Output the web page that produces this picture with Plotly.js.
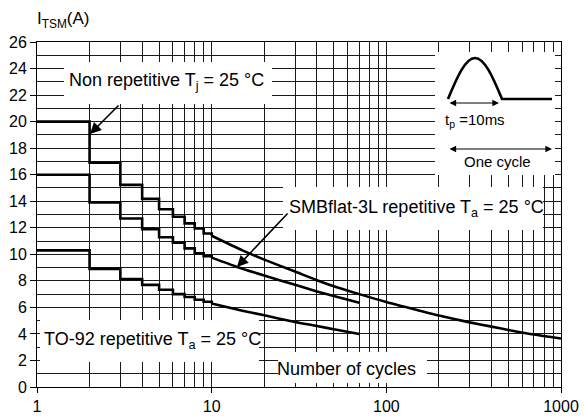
<!DOCTYPE html>
<html>
<head>
<meta charset="utf-8">
<script src="https://cdn.plot.ly/plotly-3.0.1.min.js"></script>
<style>html,body{margin:0;padding:0;background:#fff;}#chart{width:584px;height:420px;}</style>
</head>
<body>
<div id="chart"></div>
<script>
// ---- data ----
const stepCycles = [1, 2, 3, 4, 5, 6, 7, 8, 9, 10];
const nonRepStep = [20, 16.9, 15.23, 14.18, 13.4, 12.83, 12.33, 11.95, 11.57, 11.4];
const smbStep    = [16, 13.9, 12.7, 11.9, 11.28, 10.87, 10.45, 10.08, 9.86, 9.75];
const to92Step   = [10.3, 8.9, 8.13, 7.7, 7.33, 7.0, 6.78, 6.58, 6.42, 6.3];

const nonRepCycles = [10, 15, 20, 30, 40, 50, 70, 100, 150, 200, 300, 400, 500, 700, 1000];
const nonRepCurve  = [11.4, 10.3, 9.6, 8.7, 8.05, 7.6, 7.0, 6.4, 5.8, 5.38, 4.87, 4.55, 4.3, 3.95, 3.65];
const smbCycles = [10, 14, 20, 30, 40, 50, 70];
const smbCurve  = [9.75, 9.05, 8.4, 7.7, 7.2, 6.85, 6.35];
const to92Cycles = [10, 15, 20, 30, 40, 50, 70];
const to92Curve  = [6.3, 5.75, 5.4, 4.9, 4.6, 4.35, 4.0];

const xTickVals = [1, 10, 100, 1000];
const xTickText = ['1', '10', '100', '1000'];
const xGridVals = [2,3,4,5,6,7,8,9,20,30,40,50,60,70,80,90,200,300,400,500,600,700,800,900];
const yTickVals = [0,2,4,6,8,10,12,14,16,18,20,22,24,26];
const yGridVals = [1,3,5,7,9,11,13,15,17,19,21,23,25];

// ---- layout helpers (pixel -> paper) ----
const L = 37, T = 42, W = 524, H = 345;
const X = px => (px - L) / W;
const Y = py => (T + H - py) / H;

const FONT = 'Liberation Sans, Arial, sans-serif';
const lineStyle = {color: '#000', width: 2.6};

const traces = [
  {x: stepCycles, y: nonRepStep, mode: 'lines', line: Object.assign({shape: 'hv'}, lineStyle)},
  {x: nonRepCycles, y: nonRepCurve, mode: 'lines', line: Object.assign({shape: 'spline', smoothing: 0.6}, lineStyle)},
  {x: stepCycles, y: smbStep, mode: 'lines', line: Object.assign({shape: 'hv'}, lineStyle)},
  {x: smbCycles, y: smbCurve, mode: 'lines', line: Object.assign({shape: 'spline', smoothing: 0.6}, lineStyle)},
  {x: stepCycles, y: to92Step, mode: 'lines', line: Object.assign({shape: 'hv'}, lineStyle)},
  {x: to92Cycles, y: to92Curve, mode: 'lines', line: Object.assign({shape: 'spline', smoothing: 0.6}, lineStyle)}
];

const GRID = '#1a1a1a';
function box(x0, y0, x1, y1) {
  return {type: 'rect', xref: 'paper', yref: 'paper', x0: X(x0), x1: X(x1), y0: Y(y1), y1: Y(y0),
          fillcolor: '#fff', line: {width: 0}, layer: 'above'};
}
// half-sine pulse in the inset
const p = (px, py) => X(px).toFixed(5) + ',' + Y(py).toFixed(5);
const pulsePath = 'M' + p(448, 99) + ' C' + p(457, 77.5) + ' ' + p(465.3, 58) + ' ' + p(475, 58) +
                  ' C' + p(484.7, 58) + ' ' + p(493, 77.5) + ' ' + p(502, 99) + ' L' + p(552, 99);

const shapes = [
  box(64, 62, 272, 104),
  box(283, 187, 543, 230),
  box(40, 320, 259, 362),
  box(278, 352, 427, 383),
  box(435, 52, 555, 175),
  {type: 'path', xref: 'paper', yref: 'paper', path: pulsePath, line: {color: '#000', width: 2.6}, layer: 'above'}
];

function txt(text, px, py, size) {
  return {xref: 'paper', yref: 'paper', x: X(px), y: Y(py), xanchor: 'left', yanchor: 'middle',
          text: text, showarrow: false, font: {family: FONT, size: size || 18, color: '#000'}};
}
function arrow(tipx, tipy, tailx, taily, opts) {
  return Object.assign({xref: 'paper', yref: 'paper', x: X(tipx), y: Y(tipy), ax: tailx - tipx, ay: taily - tipy,
          text: '', showarrow: true, arrowhead: 2, arrowsize: 1.4, arrowwidth: 1.6, arrowcolor: '#000'}, opts || {});
}

const annotations = [
  txt('I<sub>TSM</sub>(A)', 35, 20, 17),
  txt('Non repetitive T<sub>j</sub> = 25 °C', 67, 82),
  txt('SMBflat-3L repetitive T<sub>a</sub> = 25 °C', 287, 208),
  txt('TO-92 repetitive T<sub>a</sub> = 25 °C', 42, 340),
  txt('Number of cycles', 275, 369),
  txt('t<sub>p</sub> =10ms', 443, 120, 15),
  txt('One cycle', 462, 161, 15),
  arrow(90, 134, 120, 104),
  arrow(237, 267, 289, 212),
  arrow(499, 103, 448, 103, {arrowside: 'end+start', startarrowhead: 2, arrowsize: 1.1, startarrowsize: 1.1, arrowwidth: 1.2}),
  arrow(552, 149, 448, 149, {arrowside: 'end+start', startarrowhead: 2, arrowsize: 1.1, startarrowsize: 1.1, arrowwidth: 1.2})
];

const layout = {
  width: 584, height: 420,
  margin: {l: L, r: 584 - L - W, t: T, b: 420 - T - H, pad: 0},
  paper_bgcolor: '#fff', plot_bgcolor: '#fff',
  showlegend: false, hovermode: false,
  font: {family: FONT, size: 16, color: '#000'},
  xaxis: {
    type: 'log', range: [0, 3],
    tickmode: 'array', tickvals: xTickVals, ticktext: xTickText,
    ticks: 'outside', ticklen: 5, tickcolor: '#000', tickwidth: 1,
    showgrid: true, gridcolor: GRID, gridwidth: 1,
    minor: {tickmode: 'array', tickvals: xGridVals, showgrid: true, gridcolor: GRID, gridwidth: 1, ticks: ''},
    showline: true, mirror: true, linecolor: '#000', linewidth: 1,
    zeroline: false, tickfont: {family: FONT, size: 16}
  },
  yaxis: {
    range: [0, 26],
    tickmode: 'array', tickvals: yTickVals,
    ticks: 'outside', ticklen: 6, tickcolor: '#000', tickwidth: 1,
    showgrid: true, gridcolor: GRID, gridwidth: 1,
    minor: {tickmode: 'array', tickvals: yGridVals, showgrid: true, gridcolor: GRID, gridwidth: 1, ticks: ''},
    showline: true, mirror: true, linecolor: '#000', linewidth: 1,
    zeroline: false, tickfont: {family: FONT, size: 16}
  },
  shapes: shapes,
  annotations: annotations
};

Plotly.newPlot('chart', traces, layout, {staticPlot: true, displayModeBar: false});
</script>
</body>
</html>
